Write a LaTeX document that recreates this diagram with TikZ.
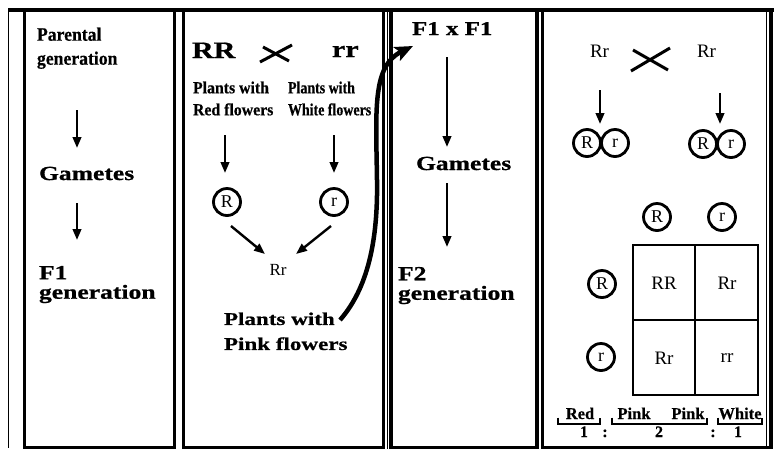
\documentclass[tikz,border=0pt]{standalone}
\usepackage{fontspec}
\setmainfont{Liberation Serif}
\newfontfamily\tbold[FakeBold=0.4]{Liberation Serif Bold}
\newfontfamily\twide[FakeStretch=1.28,FakeBold=0.8]{Liberation Serif Bold}
\newfontfamily\tcond[FakeStretch=0.93,FakeBold=0.5]{Liberation Serif Bold}
\newfontfamily\tcondw[FakeStretch=0.82,FakeBold=0.5]{Liberation Serif Bold}
\usetikzlibrary{arrows.meta}

\begin{document}
\begin{tikzpicture}[x=1pt,y=-1pt,
  every node/.style={inner sep=0pt, outer sep=0pt},
  panel/.style={line width=3.5pt},
  arr/.style={line width=2.4pt, -{Triangle[length=11pt,width=8.5pt]}},
  crossline/.style={line width=3pt},
  gam/.style={circle, draw, line width=2.8pt, minimum size=27pt,
    font=\fontsize{18}{18}\selectfont},
  widelbl/.style={anchor=base west, font=\twide\fontsize{#1}{#1}\selectfont},
  widetwo/.style={anchor=north west, align=left, font=\twide\fontsize{20}{19.5}\selectfont},
  plainlbl/.style={font=\fontsize{#1}{#1}\selectfont},
  boldlbl/.style={anchor=base, font=\tbold\fontsize{#1}{#1}\selectfont},
  bracket/.style={line width=2pt},
  grid/.style={line width=2.8pt}
]
\useasboundingbox (0,0) rectangle (774,459);

% ---- frames ----
\draw[line width=4pt] (8,9.5) -- (774,9.5);
\draw[line width=1.4pt] (8.5,9) -- (8.5,448);
\draw[panel] (24.5,9.5) rectangle (174.5,447.5);
\draw[panel] (183.5,9.5) rectangle (383.5,447.5);
\draw[line width=1.2pt] (387.5,9) -- (387.5,449);
\draw[panel] (391,9.5) rectangle (537,447.5);
\draw[panel] (542.5,9.5) rectangle (771,447.5);
\draw[line width=1pt] (766.5,9) -- (766.5,446);

% ---- panel 1: the generations ----
\node[anchor=north west, align=left, font=\tcond\fontsize{19}{24}\selectfont]
  (parental) at (37,27.5) {Parental\\generation};
\coordinate (p1a) at (77,110); \coordinate (p1b) at (77,148);
\draw[arr] (p1a) -- (p1b);
\node[widelbl=20] (gam1) at (39,180) {Gametes};
\coordinate (p1c) at (77,203); \coordinate (p1d) at (77,240);
\draw[arr] (p1c) -- (p1d);
\node[widetwo] (f1gen) at (39,266) {F1\\generation};

% ---- panel 2: parental cross ----
\node[widelbl=23.5] (RR) at (192,58) {RR};
\draw[crossline] (260,62) -- (292,45);
\draw[crossline] (263,47) -- (289,61);
\node[widelbl=23.5] (rr) at (332,57) {rr};
\node[anchor=north west, align=left, font=\tcond\fontsize{17}{22}\selectfont]
  (redpl) at (193,81.5) {Plants with\\Red flowers};
\node[anchor=north west, align=left, font=\tcondw\fontsize{17}{22}\selectfont]
  (whitepl) at (288,81.5) {Plants with\\White flowers};
\coordinate (p2a) at (225,135); \coordinate (p2b) at (225,173);
\coordinate (p2c) at (334,135); \coordinate (p2d) at (334,173);
\draw[arr] (p2a) -- (p2b);
\draw[arr] (p2c) -- (p2d);
\node[gam] (g2R) at (227,202) {R};
\node[gam] (g2r) at (334,202) {r};
\node[plainlbl=17, anchor=base] (f1) at (278,275) {Rr};
\coordinate (p2e) at (231,226); \coordinate (p2f) at (265,254);
\coordinate (p2g) at (331,226); \coordinate (p2h) at (296,254);
\draw[arr] (p2e) -- (p2f);
\draw[arr] (p2g) -- (p2h);
\node[anchor=north west, align=left, font=\twide\fontsize{18}{25}\selectfont]
  (pinkpl) at (224,312.5) {Plants with\\Pink flowers};

% selfing arrow from the F1 plants to the F1 x F1 cross
\coordinate (cvS) at (340,320);
\coordinate (cvE) at (413,46);
\draw[line width=4.5pt, -{Stealth[length=18pt,width=15pt,inset=4pt]}]
  (cvS) .. controls (368,288) and (378,240) .. (377,180)
        .. controls (376,110) and (372,66) .. (cvE);

% ---- panel 3: F1 x F1 ----
\node[widelbl=19.5] (f1xf1) at (412,35) {F1 x F1};
\coordinate (p3a) at (447,57); \coordinate (p3b) at (447,147);
\draw[arr] (p3a) -- (p3b);
\node[widelbl=20] (gam3) at (416,170) {Gametes};
\coordinate (p3c) at (447,183); \coordinate (p3d) at (447,247);
\draw[arr] (p3c) -- (p3d);
\node[widetwo] (f2gen) at (398,267) {F2\\generation};

% ---- panel 4: Punnett square ----
\node[plainlbl=19, anchor=base west] (hRr1) at (590,57) {Rr};
\draw[crossline] (631,71) -- (670,48);
\draw[crossline] (633,50) -- (668,70);
\node[plainlbl=19, anchor=base west] (hRr2) at (697,57) {Rr};
\coordinate (p4a) at (600,90); \coordinate (p4b) at (600,124);
\coordinate (p4c) at (720,93); \coordinate (p4d) at (720,124);
\draw[arr] (p4a) -- (p4b);
\draw[arr] (p4c) -- (p4d);
\node[gam] (g4R1) at (587,143) {R};
\node[gam] (g4r1) at (615,143) {r};
\node[gam] (g4R2) at (703,144) {R};
\node[gam] (g4r2) at (731,144) {r};

\node[gam] (colR) at (657,217) {R};
\node[gam] (colr) at (722,217) {r};
\node[gam] (rowR) at (602,284) {R};
\node[gam] (rowr) at (601,357) {r};

\draw[grid] (633,245) rectangle (758,395);
\draw[grid] (695,245) -- (695,395);
\draw[grid] (633,320) -- (758,320);
\node[plainlbl=19] (cRR) at (664,283) {RR};
\node[plainlbl=19] (cRr1) at (727,283) {Rr};
\node[plainlbl=19] (cRr2) at (664,358) {Rr};
\node[plainlbl=19] (crr) at (727,358) {rr};

\node[boldlbl=16.5] (tRed) at (580,419) {Red};
\node[boldlbl=16.5] (tPink1) at (634,419) {Pink};
\node[boldlbl=16.5] (tPink2) at (688,419) {Pink};
\node[boldlbl=16.5] (tWhite) at (740,419) {White};
\draw[bracket] (558,417.5) -- (558,424) -- (600,424) -- (600,417.5);
\draw[bracket] (612,417.5) -- (612,424) -- (707,424) -- (707,417.5);
\draw[bracket] (718,417.5) -- (718,424) -- (762,424) -- (762,417.5);
\node[boldlbl=16] (n1) at (584,437) {1};
\node[boldlbl=16] (c1) at (605,437) {:};
\node[boldlbl=16] (n2) at (659,437) {2};
\node[boldlbl=16] (c2) at (713,437) {:};
\node[boldlbl=16] (n3) at (738,437) {1};
\end{tikzpicture}
\end{document}
